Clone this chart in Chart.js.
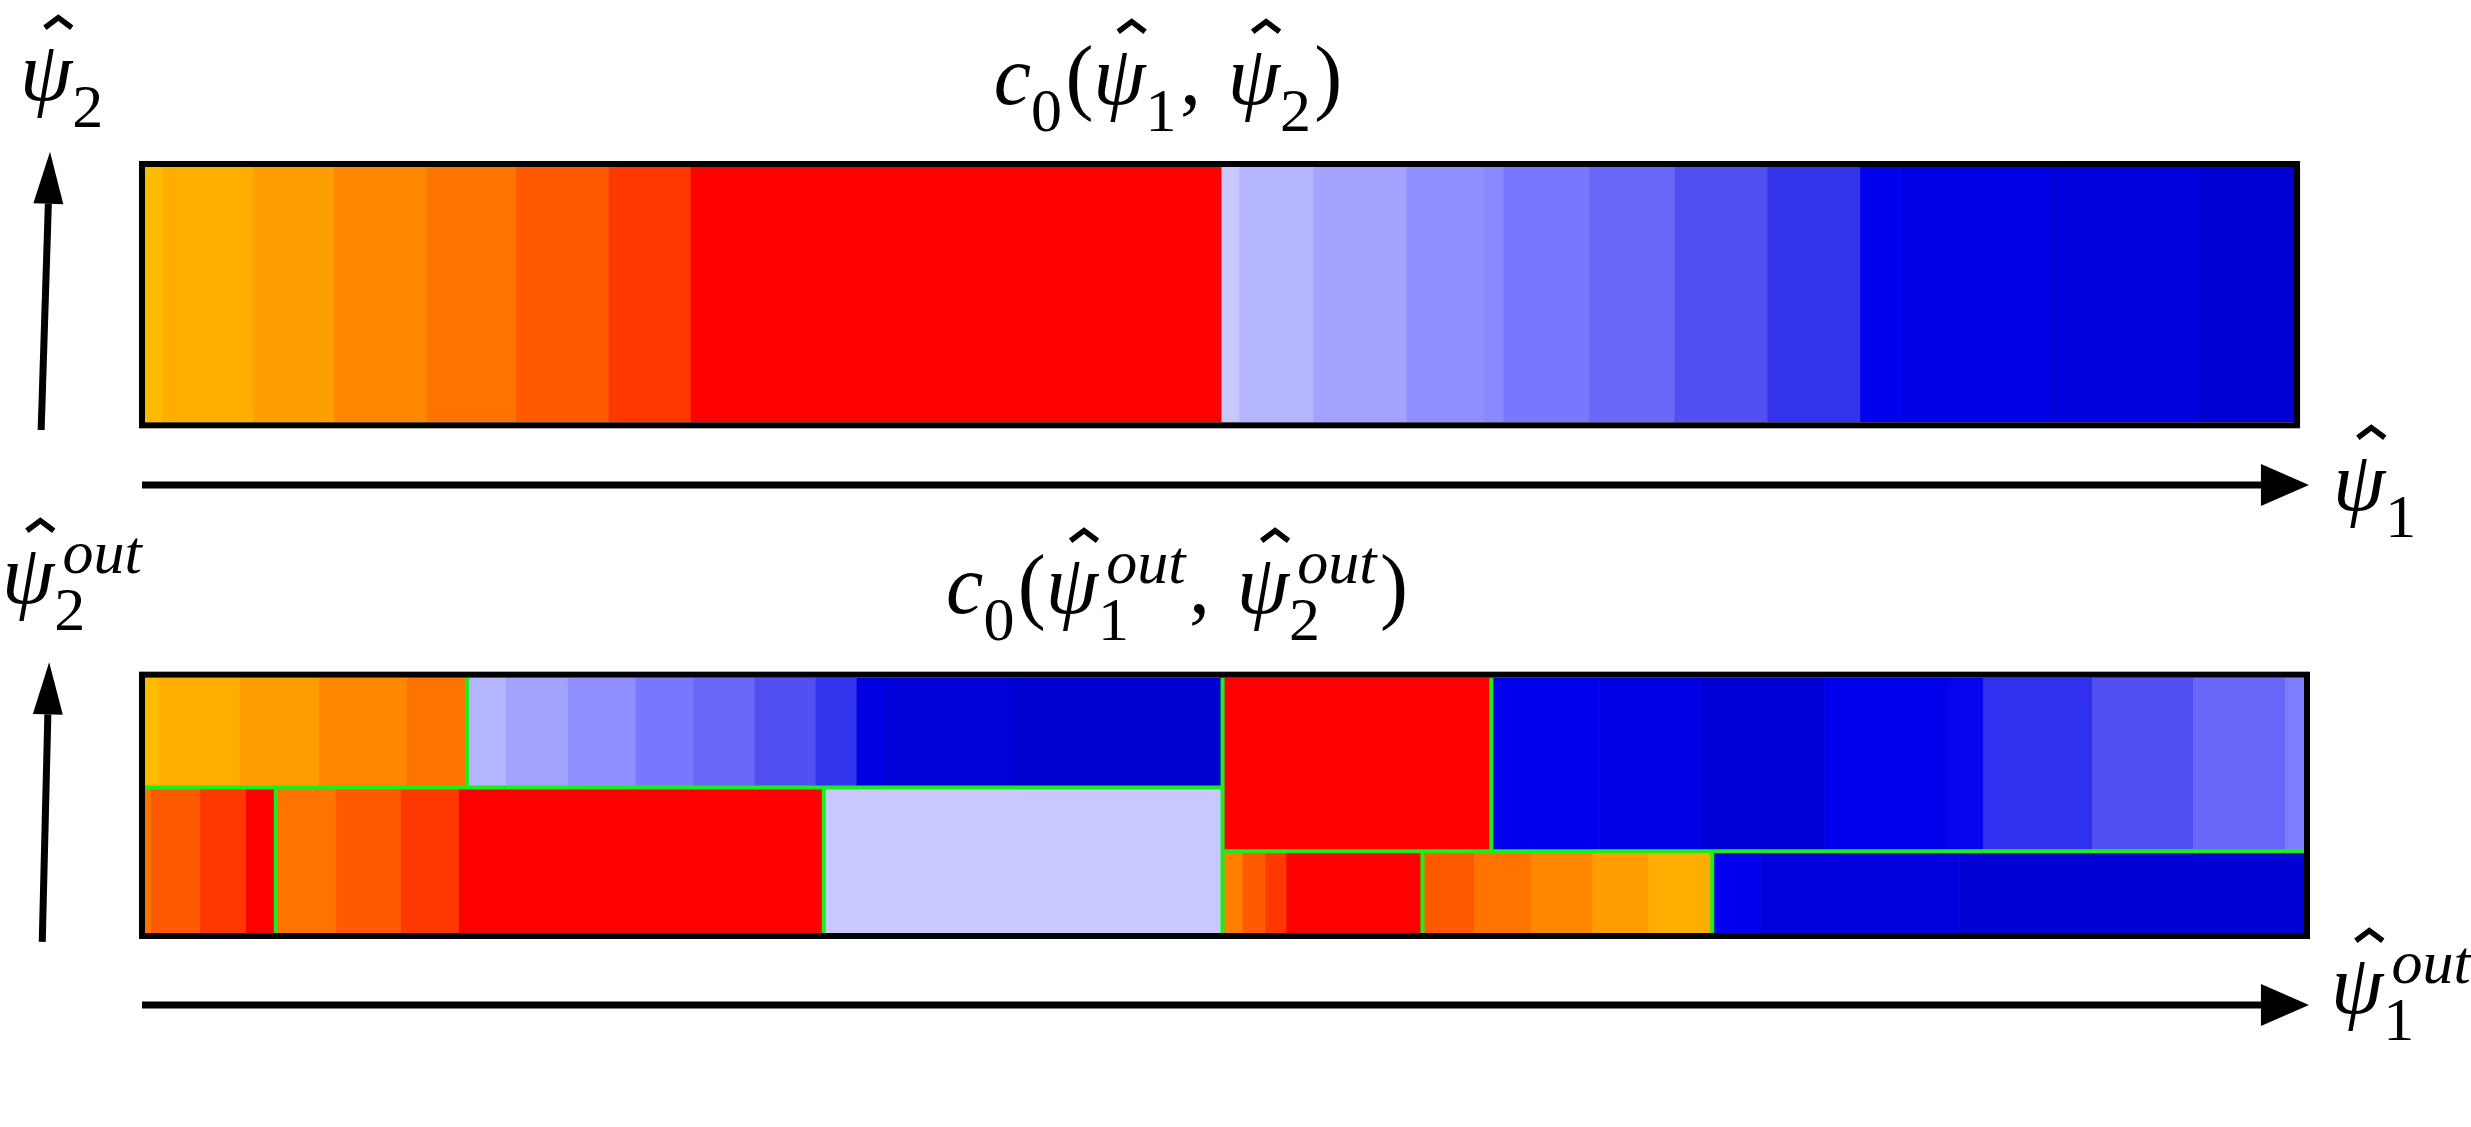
<!DOCTYPE html>
<html lang="en">
<head>
<meta charset="UTF-8">
<title>c0 partition strips</title>
<script src="https://cdn.jsdelivr.net/npm/chart.js"></script>
<style>
html, body { margin: 0; padding: 0; background: #fff; }
#wrap { width: 2471px; height: 1127px; position: relative; }
</style>
</head>
<body>
<div id="wrap"><canvas id="strips"></canvas></div>
<script>
// psi1 runs 0..100 along a strip, psi2 is 0..1 inside a strip.
// top strip (input) sits at y 2..3, bottom strip (output) at y 0..1

// top strip: c0(psi1, psi2)
const topEdges = [0, 0.83, 5.0, 8.75, 13.06, 17.18, 21.48, 25.28, 49.86, 50.69, 54.12, 58.43, 62.04, 62.92, 66.90, 70.83, 75.14, 79.44, 81.25, 88.19, 95.14, 99.54];
const topColors = ['#FFBB00','#FFAE00','#FF9E00','#FF8800','#FF7300','#FF5A00','#FF3700','#FF0000','#C8C8FF','#B4B4FF','#A3A3FF','#8F8FFF','#8A8AFF','#7878FF','#6868F8','#4F4FF2','#3333EE','#0000EE','#0000E6','#0000DC','#0000D2'];

// bottom strip: c0(psi1_out, psi2_out), split in four blocks
const splitLeft = 0.57;   // psi2_out split on the left half
const splitRight = 0.32;  // psi2_out split on the right half
const midCut = 49.91;

const upLeftEdges = [0, 0.65, 4.40, 8.06, 12.13, 14.91, 16.71, 19.58, 22.73, 25.42, 28.24, 31.06, 32.96, 34.26, 40.14, 49.91];
const upLeftColors = ['#FFBB00','#FFAE00','#FF9E00','#FF8800','#FF7300','#B4B4FF','#A3A3FF','#8F8FFF','#7878FF','#6868F8','#4F4FF2','#3333EE','#0000E0','#0000D8','#0000D0'];

const lowLeftEdges = [0, 0.28, 2.55, 4.68, 6.06, 8.84, 11.85, 14.54, 31.44, 49.91];
const lowLeftColors = ['#FF7300','#FF5A00','#FF3700','#FF0000','#FF7300','#FF5A00','#FF3700','#FF0000','#C8C8FF'];

const upRightEdges = [49.91, 62.36, 67.36, 71.99, 77.78, 83.56, 85.14, 90.19, 94.86, 99.12, 100];
const upRightColors = ['#FF0000','#0000EE','#0000E4','#0000D6','#0000EC','#0505F0','#3030EE','#4F4FF2','#6868F8','#7D7DFF'];

const lowRightEdges = [49.91, 50.83, 51.90, 52.87, 59.17, 61.57, 64.21, 67.04, 69.63, 72.59, 74.81, 84.03, 100];
const lowRightColors = ['#FF7F00','#FF5A00','#FF3700','#FF0000','#FF5A00','#FF7300','#FF8800','#FF9E00','#FFAE00','#0000EE','#0000DD','#0000D3'];

// green partition cuts: vertical [x, y0, y1], horizontal [y, x0, x1]
const cutsV = [[14.91, splitLeft, 1], [6.06, 0, splitLeft], [31.44, 0, splitLeft], [midCut, 0, 1], [62.36, splitRight, 1], [59.17, 0, splitRight], [72.59, 0, splitRight]];
const cutsH = [[splitLeft, 0, midCut], [splitRight, midCut, 100]];

const blocks = [
    {edges: topEdges, colors: topColors, y0: 2, y1: 3},
    {edges: upLeftEdges, colors: upLeftColors, y0: splitLeft, y1: 1},
    {edges: lowLeftEdges, colors: lowLeftColors, y0: 0, y1: splitLeft},
    {edges: upRightEdges, colors: upRightColors, y0: splitRight, y1: 1},
    {edges: lowRightEdges, colors: lowRightColors, y0: 0, y1: splitRight}
];
const frames = [[0, 99.54, 2, 3], [0, 100, 0, 1]];

// axis arrows [xFrom, yFrom, xTo, yTo] in axis units
const arrows = [
    [-0.14, 1.755, 100.23, 1.755],
    [-0.14, -0.282, 100.23, -0.282],
    [-4.81, 1.97, -4.40, 3.06],
    [-4.76, -0.035, -4.44, 1.06]
];

// math labels
const M = 84, S = 62;
const FAMILY = '"Liberation Serif", serif';
const psi = {t: 'ψ', it: true, hat: true};
const labels = [
    {x: 20, y: 100, align: 'left', parts: [psi, {sub: '2'}]},
    {x: 1168, y: 104, align: 'center', parts: [{t: 'c', it: true}, {sub: '0'}, {t: '('}, psi, {sub: '1'}, {t: ','}, {sp: 0.32}, psi, {sub: '2'}, {t: ')'}]},
    {x: 2333, y: 510, align: 'left', parts: [psi, {sub: '1'}]},
    {x: 2, y: 603, align: 'left', parts: [psi, {sub: '2', sup: 'out'}]},
    {x: 1177, y: 613, align: 'center', parts: [{t: 'c', it: true}, {sub: '0'}, {t: '('}, psi, {sub: '1', sup: 'out'}, {t: ','}, {sp: 0.32}, psi, {sub: '2', sup: 'out'}, {t: ')'}]},
    {x: 2331, y: 1013, align: 'left', parts: [psi, {sub: '1', sup: 'out'}]}
];

function fontOf(size, it){
    return (it ? 'italic ' : 'normal ') + size + 'px ' + FAMILY;
}

function partWidth(ctx, p){
    if(p.sp) return p.sp * M;
    if(p.t){ ctx.font = fontOf(M, p.it); return ctx.measureText(p.t).width; }
    ctx.font = fontOf(S, false);
    let w = ctx.measureText(p.sub).width;
    if(p.sup){
        ctx.font = fontOf(S, true);
        w = Math.max(w, 0.1 * M + ctx.measureText(p.sup).width);
    }
    return w + 0.04 * M;
}

function drawMath(ctx, lab){
    const widths = lab.parts.map(p => partWidth(ctx, p));
    const total = widths.reduce((a, b) => a + b, 0);
    let x = lab.align === 'center' ? lab.x - total / 2 : lab.x;
    const y = lab.y;
    ctx.fillStyle = '#000';
    ctx.textBaseline = 'alphabetic';
    ctx.textAlign = 'left';
    lab.parts.forEach((p, i) => {
        if(p.t){
            ctx.font = fontOf(M, p.it);
            ctx.fillText(p.t, x, y);
            if(p.hat){
                const m = ctx.measureText(p.t);
                const l = x - m.actualBoundingBoxLeft, r = x + m.actualBoundingBoxRight;
                const cx = l + 0.68 * (r - l);
                const half = 0.16 * M;
                ctx.beginPath();
                ctx.moveTo(cx - half, y - 0.86 * M);
                ctx.lineTo(cx, y - 0.98 * M);
                ctx.lineTo(cx + half, y - 0.86 * M);
                ctx.lineWidth = 0.065 * M;
                ctx.lineJoin = 'miter';
                ctx.strokeStyle = '#000';
                ctx.stroke();
            }
        } else if(p.sub){
            ctx.font = fontOf(S, false);
            ctx.fillText(p.sub, x, y + 0.32 * M);
            if(p.sup){
                ctx.font = fontOf(S, true);
                ctx.fillText(p.sup, x + 0.1 * M, y - 0.36 * M);
            }
        }
        x += widths[i];
    });
}

function drawArrow(ctx, x0, y0, x1, y1, headLen, headHalf){
    const ang = Math.atan2(y1 - y0, x1 - x0);
    const bx = x1 - headLen * Math.cos(ang), by = y1 - headLen * Math.sin(ang);
    ctx.strokeStyle = '#000';
    ctx.lineWidth = 7;
    ctx.lineCap = 'butt';
    ctx.beginPath();
    ctx.moveTo(x0, y0);
    ctx.lineTo(bx, by);
    ctx.stroke();
    ctx.fillStyle = '#000';
    ctx.beginPath();
    ctx.moveTo(x1, y1);
    ctx.lineTo(bx + headHalf * Math.sin(ang), by - headHalf * Math.cos(ang));
    ctx.lineTo(bx - headHalf * Math.sin(ang), by + headHalf * Math.cos(ang));
    ctx.closePath();
    ctx.fill();
}

const stripPlugin = {
    id: 'strips',
    afterDraw(chart){
        const ctx = chart.ctx;
        const xs = chart.scales.x, ys = chart.scales.y;
        const px = v => xs.getPixelForValue(v);
        const py = v => ys.getPixelForValue(v);
        ctx.save();

        // cells
        blocks.forEach(b => {
            const top = py(b.y1), bot = py(b.y0);
            for(let i = 0; i < b.colors.length; i++){
                const l = px(b.edges[i]), r = px(b.edges[i + 1]);
                ctx.fillStyle = b.colors[i];
                ctx.fillRect(l, top, r - l + 0.6, bot - top);
            }
        });

        // green partition lines
        ctx.strokeStyle = '#19F019';
        ctx.lineWidth = 4;
        ctx.lineCap = 'butt';
        cutsV.forEach(c => {
            ctx.beginPath();
            ctx.moveTo(px(c[0]), py(c[1]));
            ctx.lineTo(px(c[0]), py(c[2]));
            ctx.stroke();
        });
        cutsH.forEach(c => {
            ctx.beginPath();
            ctx.moveTo(px(c[1]), py(c[0]));
            ctx.lineTo(px(c[2]), py(c[0]));
            ctx.stroke();
        });

        // black frames, sitting just outside the cells
        ctx.strokeStyle = '#000';
        ctx.lineWidth = 6;
        frames.forEach(f => {
            const l = px(f[0]), r = px(f[1]), t = py(f[3]), b = py(f[2]);
            ctx.strokeRect(l - 3, t - 3, r - l + 6, b - t + 6);
        });

        // axis arrows
        arrows.forEach((a, i) => {
            const horiz = i < 2;
            drawArrow(ctx, px(a[0]), py(a[1]), px(a[2]), py(a[3]), horiz ? 48 : 52, horiz ? 21 : 15);
        });

        labels.forEach(l => drawMath(ctx, l));
        ctx.restore();
    }
};

const chart = new Chart(document.getElementById('strips'), {
    type: 'scatter',
    data: {datasets: [{data: []}]},
    options: {
        responsive: true,
        maintainAspectRatio: false,
        animation: false,
        events: [],
        layout: {padding: {left: 145, right: 167, top: 167, bottom: 194}},
        plugins: {legend: {display: false}, tooltip: {enabled: false}},
        scales: {
            x: {type: 'linear', min: 0, max: 100, display: false},
            y: {type: 'linear', min: 0, max: 3, display: false}
        }
    },
    plugins: [stripPlugin]
});
if(document.fonts) document.fonts.ready.then(() => chart.draw());
</script>
</body>
</html>
